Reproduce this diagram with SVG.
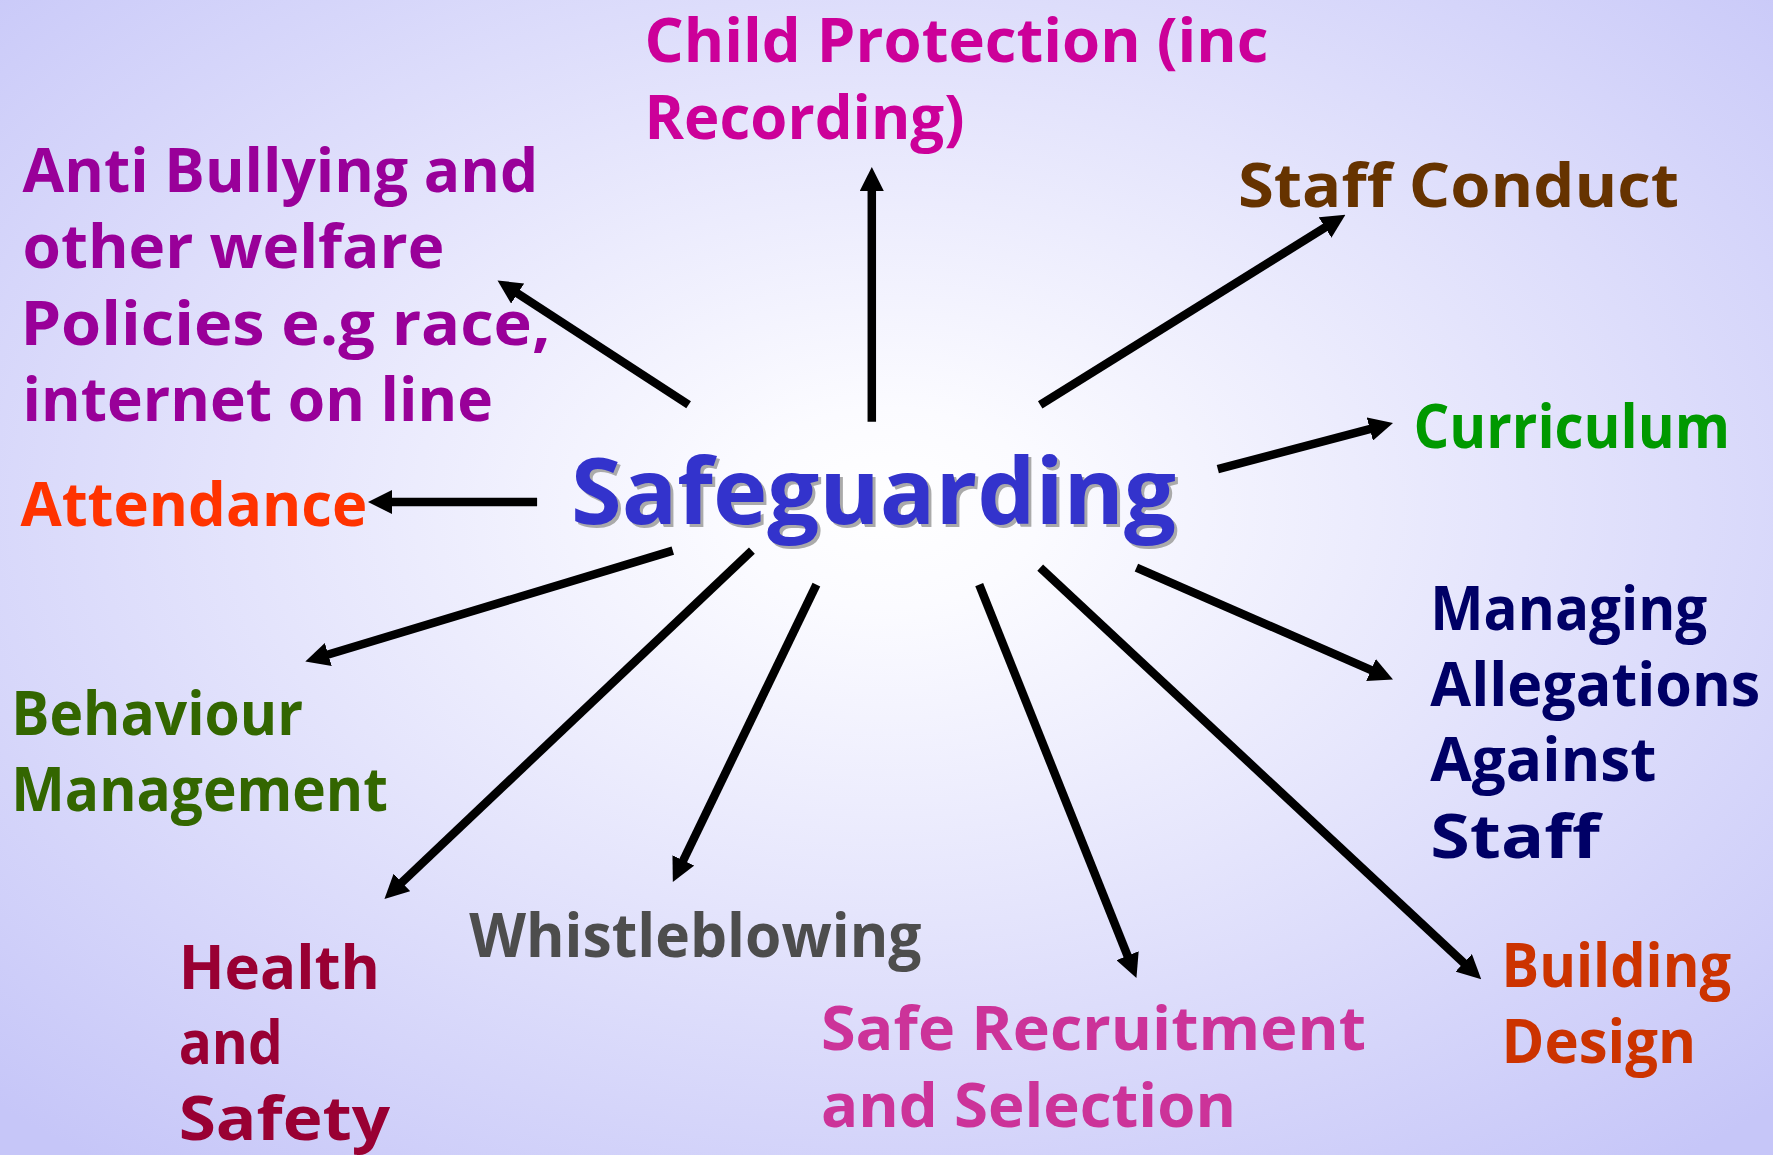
<svg xmlns="http://www.w3.org/2000/svg" width="1773" height="1155" viewBox="0 0 1773 1155">
<defs>
<radialGradient id="bg" cx="0.5" cy="0.44" r="0.72" fx="0.5" fy="0.44">
<stop offset="0" stop-color="#ffffff"/>
<stop offset="0.12" stop-color="#fbfbff"/>
<stop offset="1" stop-color="#c6c6f8"/>
</radialGradient>
<marker id="ah" viewBox="0 0 10 10" refX="4" refY="5" markerWidth="24" markerHeight="24" markerUnits="userSpaceOnUse" orient="auto">
<path d="M0,0 L10,5 L0,10 Z" fill="#000"/>
</marker>
<style>
text{font-family:"Open Sans","DejaVu Sans",sans-serif;font-weight:700;font-size:61px}
.big{font-size:92px}
</style>
</defs>
<rect width="1773" height="1155" fill="url(#bg)"/>
<g id="connectors" stroke="#000" stroke-width="8.5" marker-end="url(#ah)">
<line x1="871.8" y1="421.8" x2="871.8" y2="181.4"/>
<line x1="688.6" y1="404.8" x2="509.6" y2="288.3"/>
<line x1="1040.2" y1="404.8" x2="1333.2" y2="222.4"/>
<line x1="1217.8" y1="469.2" x2="1379.1" y2="426.6"/>
<line x1="537.1" y1="502" x2="382.4" y2="502"/>
<line x1="672.8" y1="550.6" x2="319.1" y2="657.3"/>
<line x1="751.9" y1="550.6" x2="394.9" y2="889"/>
<line x1="816.4" y1="584.6" x2="679.1" y2="869"/>
<line x1="979.2" y1="584.6" x2="1131.1" y2="964.6"/>
<line x1="1040.2" y1="567.6" x2="1470.7" y2="969.4"/>
<line x1="1136.4" y1="567.6" x2="1379.8" y2="673.8"/>
</g>
<g id="center">
<text class="big" x="574" y="526.5" textLength="605" lengthAdjust="spacingAndGlyphs" fill="#aaaaaa">Safeguarding</text>
<text class="big" x="571" y="523.5" textLength="605" lengthAdjust="spacingAndGlyphs" fill="#3333cc">Safeguarding</text>
</g>
<g id="child" fill="#cc0099">
<text x="644.5" y="62.2" textLength="624" lengthAdjust="spacingAndGlyphs">Child Protection (inc</text>
<text x="644.5" y="139" textLength="320" lengthAdjust="spacingAndGlyphs">Recording)</text>
</g>
<g id="anti" fill="#990099">
<text x="22.6" y="192.2" textLength="515.6" lengthAdjust="spacingAndGlyphs">Anti Bullying and</text>
<text x="22.6" y="268" textLength="421.7" lengthAdjust="spacingAndGlyphs">other welfare</text>
<text x="20.4" y="344.9" textLength="530" lengthAdjust="spacingAndGlyphs">Policies e.g race,</text>
<text x="22.6" y="420.6" textLength="470.4" lengthAdjust="spacingAndGlyphs">internet on line</text>
</g>
<g id="staffconduct" fill="#663300">
<text x="1238" y="207" textLength="441" lengthAdjust="spacingAndGlyphs">Staff Conduct</text>
</g>
<g id="curriculum" fill="#009900">
<text x="1413.4" y="447.8" textLength="316.6" lengthAdjust="spacingAndGlyphs">Curriculum</text>
</g>
<g id="attendance" fill="#ff3300">
<text x="20.4" y="525.8" textLength="347" lengthAdjust="spacingAndGlyphs">Attendance</text>
</g>
<g id="managing" fill="#000066">
<text x="1430.3" y="629.8" textLength="277" lengthAdjust="spacingAndGlyphs">Managing</text>
<text x="1430.3" y="705.6" textLength="330" lengthAdjust="spacingAndGlyphs">Allegations</text>
<text x="1430.3" y="781.3" textLength="226" lengthAdjust="spacingAndGlyphs">Against</text>
<text x="1430.3" y="858.2" textLength="169.6" lengthAdjust="spacingAndGlyphs">Staff</text>
</g>
<g id="behaviour" fill="#336600">
<text x="11.3" y="735" textLength="291.7" lengthAdjust="spacingAndGlyphs">Behaviour</text>
<text x="11.3" y="810.7" textLength="376.5" lengthAdjust="spacingAndGlyphs">Management</text>
</g>
<g id="whistle" fill="#4d4d4d">
<text x="469.2" y="956.6" textLength="452.3" lengthAdjust="spacingAndGlyphs">Whistleblowing</text>
</g>
<g id="health" fill="#990033">
<text x="178.7" y="989.4" textLength="201.3" lengthAdjust="spacingAndGlyphs">Health</text>
<text x="178.7" y="1064" textLength="104" lengthAdjust="spacingAndGlyphs">and</text>
<text x="178.7" y="1139.7" textLength="211.4" lengthAdjust="spacingAndGlyphs">Safety</text>
</g>
<g id="recruitment" fill="#cc3399">
<text x="821" y="1050.4" textLength="545" lengthAdjust="spacingAndGlyphs">Safe Recruitment</text>
<text x="821" y="1127.3" textLength="415" lengthAdjust="spacingAndGlyphs">and Selection</text>
</g>
<g id="building" fill="#cc3300">
<text x="1501.6" y="987" textLength="229.5" lengthAdjust="spacingAndGlyphs">Building</text>
<text x="1501.6" y="1062.8" textLength="194.5" lengthAdjust="spacingAndGlyphs">Design</text>
</g>
</svg>
